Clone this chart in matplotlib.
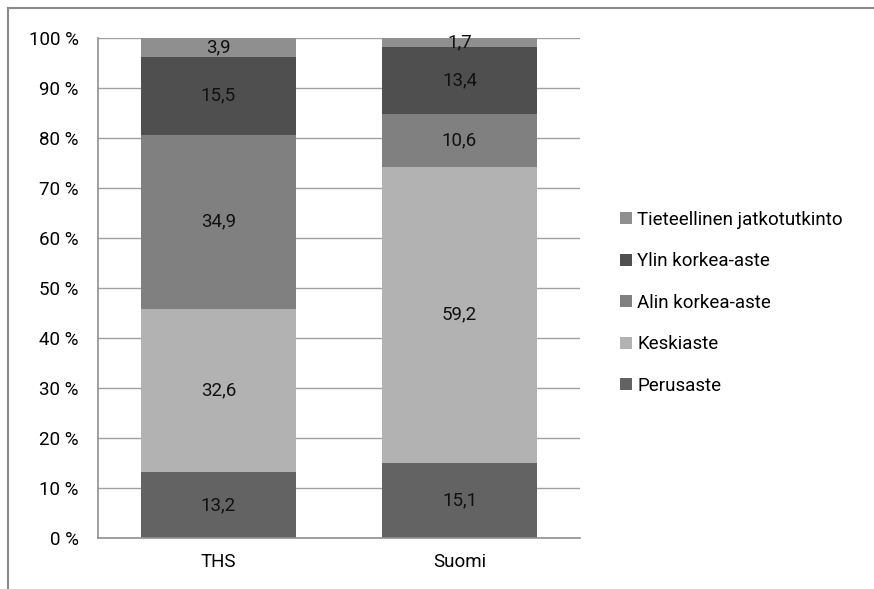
import matplotlib
matplotlib.use("Agg")
import numpy as np
from matplotlib import pyplot as plt
from matplotlib.lines import Line2D
from matplotlib.patches import Patch

plt.rcParams["font.family"] = ["Roboto", "DejaVu Sans"]

# data
groups = ["THS", "Suomi"]
levels = ["Perusaste", "Keskiaste", "Alin korkea-aste", "Ylin korkea-aste",
          "Tieteellinen jatkotutkinto"]
perusaste = [13.2, 15.1]
keskiaste = [32.6, 59.2]
alin = [34.9, 10.6]
ylin = [15.5, 13.4]
tieteellinen = [3.9, 1.7]
series = [perusaste, keskiaste, alin, ylin, tieteellinen]
colors = ["#636363", "#b2b2b2", "#808080", "#4f4f4f", "#8f8f8f"]
yticks = [0, 10, 20, 30, 40, 50, 60, 70, 80, 90, 100]
FS = 13.5

fig = plt.figure(figsize=(8.74, 5.89), dpi=100)
ax = fig.add_axes([98 / 874, 1 - 538 / 589, 482 / 874, 500 / 589])

x = np.arange(len(groups))
bottom = np.zeros(len(groups))
handles = []
for vals, col, name in zip(series, colors, levels):
    vals = np.array(vals)
    ax.bar(x, vals, 0.647, bottom=bottom, color=col, zorder=2)
    for xi, b, v in zip(x, bottom, vals):
        ax.text(xi, b + v / 2, ("%.1f" % v).replace(".", ","), ha="center",
                va="center", fontsize=FS, color="#111111", zorder=3)
    bottom += vals
    handles.append(Patch(facecolor=col, edgecolor="none", label=name))

ax.set_xlim(-0.5, 1.5)
ax.set_ylim(0, 100)
ax.set_yticks(yticks)
ax.set_yticklabels(["%d %%" % t for t in yticks], fontsize=FS)
ax.set_xticks(x)
ax.set_xticklabels(groups, fontsize=FS)
ax.tick_params(axis="both", length=0)
ax.tick_params(axis="y", pad=14)
ax.tick_params(axis="x", pad=11)
ax.grid(axis="y", color="#a0a0a0", linewidth=1, zorder=0)
for s in ["top", "right"]:
    ax.spines[s].set_visible(False)
for s in ["left", "bottom"]:
    ax.spines[s].set_color("#909090")
    ax.spines[s].set_linewidth(1.2)

leg = fig.legend(handles=handles[::-1], loc="upper left",
                 bbox_to_anchor=(605 / 874, 1 - 196 / 589), frameon=False,
                 fontsize=FS, handlelength=0.62, handleheight=0.62,
                 handletextpad=0.3, labelspacing=1.25, borderpad=0.3)

# outer chart frame
fig.add_artist(Line2D([8 / 874, 8 / 874], [0, 1 - 8 / 589], color="#8a8a8a",
                      linewidth=1.5, transform=fig.transFigure))
fig.add_artist(Line2D([8 / 874, 1], [1 - 8 / 589, 1 - 8 / 589], color="#8a8a8a",
                      linewidth=1.5, transform=fig.transFigure))

plt.savefig("out.png", dpi=100)
plt.close()
